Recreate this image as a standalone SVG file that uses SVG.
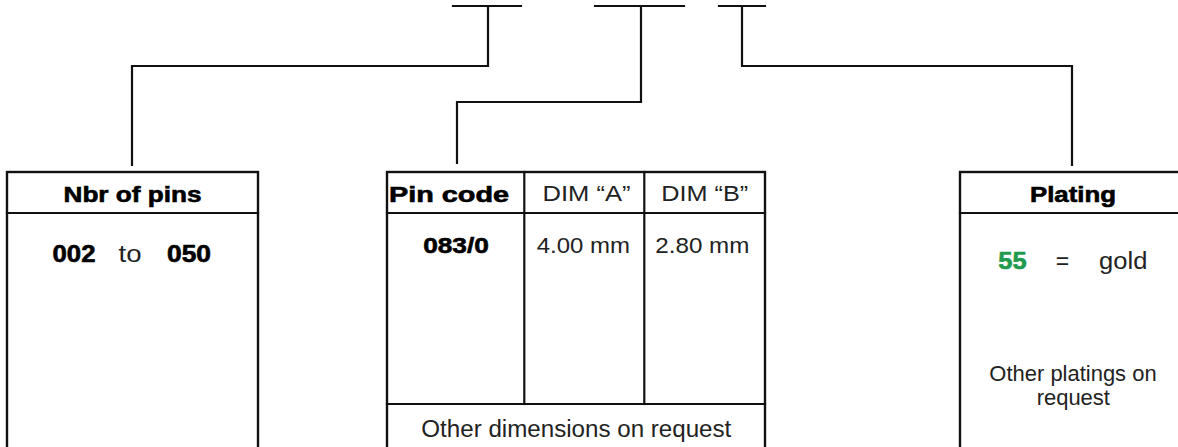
<svg xmlns="http://www.w3.org/2000/svg" width="1178" height="447" viewBox="0 0 1178 447">
<style>
.ln{fill:none;stroke:#111;stroke-width:2.2;stroke-linecap:square}
.bx{fill:#fff;stroke:#111;stroke-width:2.4}
.b{font-family:"Liberation Sans",Arial,sans-serif;font-weight:bold;fill:#000;stroke:#000;stroke-width:0.6;text-anchor:middle}
.r{font-family:"Liberation Sans",Arial,sans-serif;fill:#222;text-anchor:middle}
.g{fill:#1f9a4e;stroke:#1f9a4e}
</style>
<rect width="1178" height="447" fill="#fff"/>
<g id="connectors">
<line class="ln" x1="453" y1="6" x2="521" y2="6"/>
<polyline class="ln" points="488,6 488,66 132,66 132,165"/>
<line class="ln" x1="595" y1="6" x2="684" y2="6"/>
<polyline class="ln" points="641,6 641,102 457,102 457,163"/>
<line class="ln" x1="719" y1="6" x2="765" y2="6"/>
<polyline class="ln" points="742,6 742,66 1072,66 1072,165"/>
</g>
<g id="nbr-pins">
<rect class="bx" x="7" y="172" width="251" height="290"/>
<line class="ln" x1="7" y1="213" x2="258" y2="213"/>
<text class="b" x="132.5" y="201.5" font-size="21.5" textLength="138" lengthAdjust="spacingAndGlyphs">Nbr of pins</text>
<text class="b" x="74" y="261.5" font-size="23" textLength="43" lengthAdjust="spacingAndGlyphs">002</text>
<text class="r" x="130" y="261.5" font-size="23" textLength="23" lengthAdjust="spacingAndGlyphs">to</text>
<text class="b" x="189" y="261.5" font-size="23" textLength="44" lengthAdjust="spacingAndGlyphs">050</text>
</g>
<g id="pin-code">
<rect class="bx" x="387" y="172" width="378" height="290"/>
<line class="ln" x1="387" y1="213" x2="765" y2="213"/>
<line class="ln" x1="387" y1="404" x2="765" y2="404"/>
<line class="ln" x1="524.3" y1="172" x2="524.3" y2="404"/>
<line class="ln" x1="644.3" y1="172" x2="644.3" y2="404"/>
<text class="b" x="449" y="201.5" font-size="21.5" textLength="120" lengthAdjust="spacingAndGlyphs">Pin code</text>
<text class="r" x="586.5" y="201" font-size="21.5" textLength="88" lengthAdjust="spacingAndGlyphs">DIM “A”</text>
<text class="r" x="704.7" y="201" font-size="21.5" textLength="87" lengthAdjust="spacingAndGlyphs">DIM “B”</text>
<text class="b" x="456" y="253.3" font-size="22" textLength="65.7" lengthAdjust="spacingAndGlyphs">083/0</text>
<text class="r" x="583.3" y="253.3" font-size="22" textLength="93.3" lengthAdjust="spacingAndGlyphs">4.00 mm</text>
<text class="r" x="702.3" y="253.3" font-size="22" textLength="94" lengthAdjust="spacingAndGlyphs">2.80 mm</text>
<text class="r" x="576.3" y="437" font-size="23.5" textLength="310" lengthAdjust="spacingAndGlyphs">Other dimensions on request</text>
</g>
<g id="plating">
<rect class="bx" x="960" y="172" width="240" height="290"/>
<line class="ln" x1="960" y1="213" x2="1200" y2="213"/>
<text class="b" x="1073" y="201.5" font-size="21.5" textLength="86" lengthAdjust="spacingAndGlyphs">Plating</text>
<text class="b g" x="1012.5" y="269.3" font-size="23" textLength="28.3" lengthAdjust="spacingAndGlyphs">55</text>
<text class="r" x="1062.5" y="269.3" font-size="23">=</text>
<text class="r" x="1123.2" y="269.3" font-size="23" textLength="48.3" lengthAdjust="spacingAndGlyphs">gold</text>
<text class="r" x="1073" y="380.7" font-size="22" textLength="167.3" lengthAdjust="spacingAndGlyphs">Other platings on</text>
<text class="r" x="1073.3" y="405" font-size="22" textLength="73.3" lengthAdjust="spacingAndGlyphs">request</text>
</g>
</svg>
